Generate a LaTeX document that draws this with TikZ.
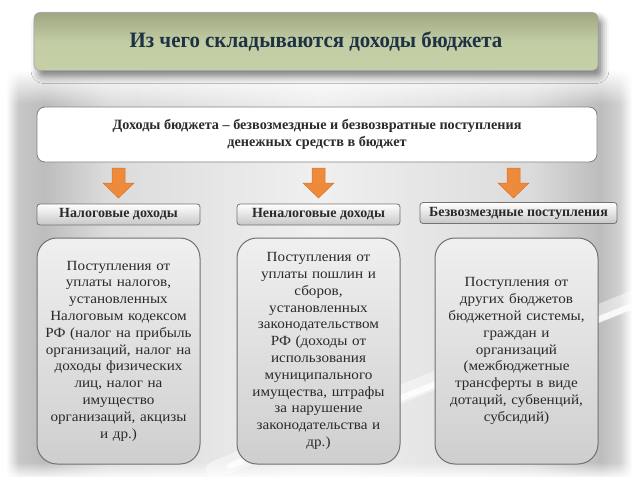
\documentclass[tikz,border=0pt]{standalone}
\usepackage{fontspec}
\setmainfont{Liberation Serif}
\newfontfamily\titlefont[FakeStretch=0.95]{Liberation Serif}
\newfontfamily\bodyfont[FakeStretch=1.08]{Liberation Serif}
\usetikzlibrary{shadows.blur,fadings}
\definecolor{titletxt}{HTML}{1E3245}
\definecolor{bodytxt}{HTML}{2A2A2A}
\definecolor{oliveA}{HTML}{9EA781}
\definecolor{oliveB}{HTML}{C6D0A7}
\definecolor{arrowcol}{HTML}{EE8A3B}
\definecolor{arrowedge}{HTML}{D8752A}
\definecolor{edgegray}{HTML}{707070}
\pgfdeclarehorizontalshading{panelshade}{100bp}{color(0bp)=(white); color(25bp)=(white); color(26bp)=(black!22); color(28bp)=(black!26); color(33bp)=(black!14); color(50bp)=(black!6); color(67bp)=(black!14); color(72.5bp)=(black!26); color(74bp)=(black!18); color(75bp)=(white); color(100bp)=(white)}
\tikzset{
  titlebox/.style={draw=black!35, line width=0.6pt, rounded corners=6pt, top color=oliveA, bottom color=oliveB, middle color=oliveB!92!oliveA, minimum width=564pt, minimum height=58pt, inner sep=0pt, font=\titlefont\bfseries\fontsize{22}{26}\selectfont, text=titletxt, blur shadow={shadow xshift=4pt, shadow yshift=-6pt, shadow blur radius=7pt, shadow opacity=50}},
  defbox/.style={draw=black!50, line width=0.8pt, rounded corners=8pt, fill=white, minimum width=560pt, minimum height=55pt, inner sep=0pt, align=center, font=\bfseries\fontsize{14.2}{17.5}\selectfont, text=bodytxt},
  headbox/.style={draw=black!55, line width=0.8pt, rounded corners=3pt, top color=white, bottom color=black!22, minimum height=21pt, inner sep=0pt, font=\bfseries\fontsize{14}{15}\selectfont, text=bodytxt},
  bigbox/.style={draw=edgegray, line width=1pt, rounded corners=20pt, top color=black!6, bottom color=black!19, minimum width=163pt, minimum height=226pt, inner sep=0pt, align=center, text width=160pt, font=\bodyfont\fontsize{14}{16.8}\selectfont, text=bodytxt},
  blockarrow/.style={fill=arrowcol, draw=arrowedge, line width=0.5pt}
}
\begin{document}
\begin{tikzpicture}[x=1pt,y=-1pt]
\useasboundingbox (0,0) rectangle (638,479);
% backdrop panel
\shade[shading=panelshade] (6,70) rectangle (632,476);
\fill[white, path fading=south] (6,70) rectangle (632,104);
\fill[white, path fading=north] (6,462) rectangle (632,479);
\draw[white, line width=18pt, opacity=0.45, line cap=round] (215,470) -- (632,300);
\draw[white, line width=6pt, opacity=0.8, line cap=round] (230,466) -- (632,306);

% title
\node[titlebox] (title) at (316,41.5) {Из чего складываются доходы бюджета};
% definition
\node[defbox] (def) at (317,134.5) {Доходы бюджета -- безвозмездные и безвозвратные поступления\\денежных средств в бюджет};

% headers
\node[headbox, minimum width=163pt] (h1) at (118.5,214.5) {Налоговые доходы};
\node[headbox, minimum width=163pt] (h2) at (318.5,214.5) {Неналоговые доходы};
\node[headbox, minimum width=197pt] (h3) at (518.5,213) {Безвозмездные поступления};

% arrows
\coordinate (a1) at (118.5,168);
\coordinate (a2) at (318.5,168);
\coordinate (a3) at (513.5,168);
\foreach \a in {a1,a2,a3}{
  \path[blockarrow] (\a) ++(-6.5,0) -- ++(13,0) -- ++(0,15) -- ++(9,0) -- ++(-15.5,15) -- ++(-15.5,-15) -- ++(9,0) -- cycle;
}

% big boxes
\node[bigbox] (b1) at (118.5,351) {Поступления от\\уплаты налогов,\\установленных\\Налоговым кодексом\\РФ (налог на прибыль\\организаций, налог на\\доходы физических\\лиц, налог на\\имущество\\организаций, акцизы\\и др.)};
\node[bigbox] (b2) at (318.5,351) {Поступления от\\уплаты пошлин и\\сборов,\\установленных\\законодательством\\РФ (доходы от\\использования\\муниципального\\имущества, штрафы\\за нарушение\\законодательства и\\др.)};
\node[bigbox] (b3) at (516.5,351) {Поступления от\\других бюджетов\\бюджетной системы,\\граждан и\\организаций\\(межбюджетные\\трансферты в виде\\дотаций, субвенций,\\субсидий)};
\end{tikzpicture}
\end{document}
